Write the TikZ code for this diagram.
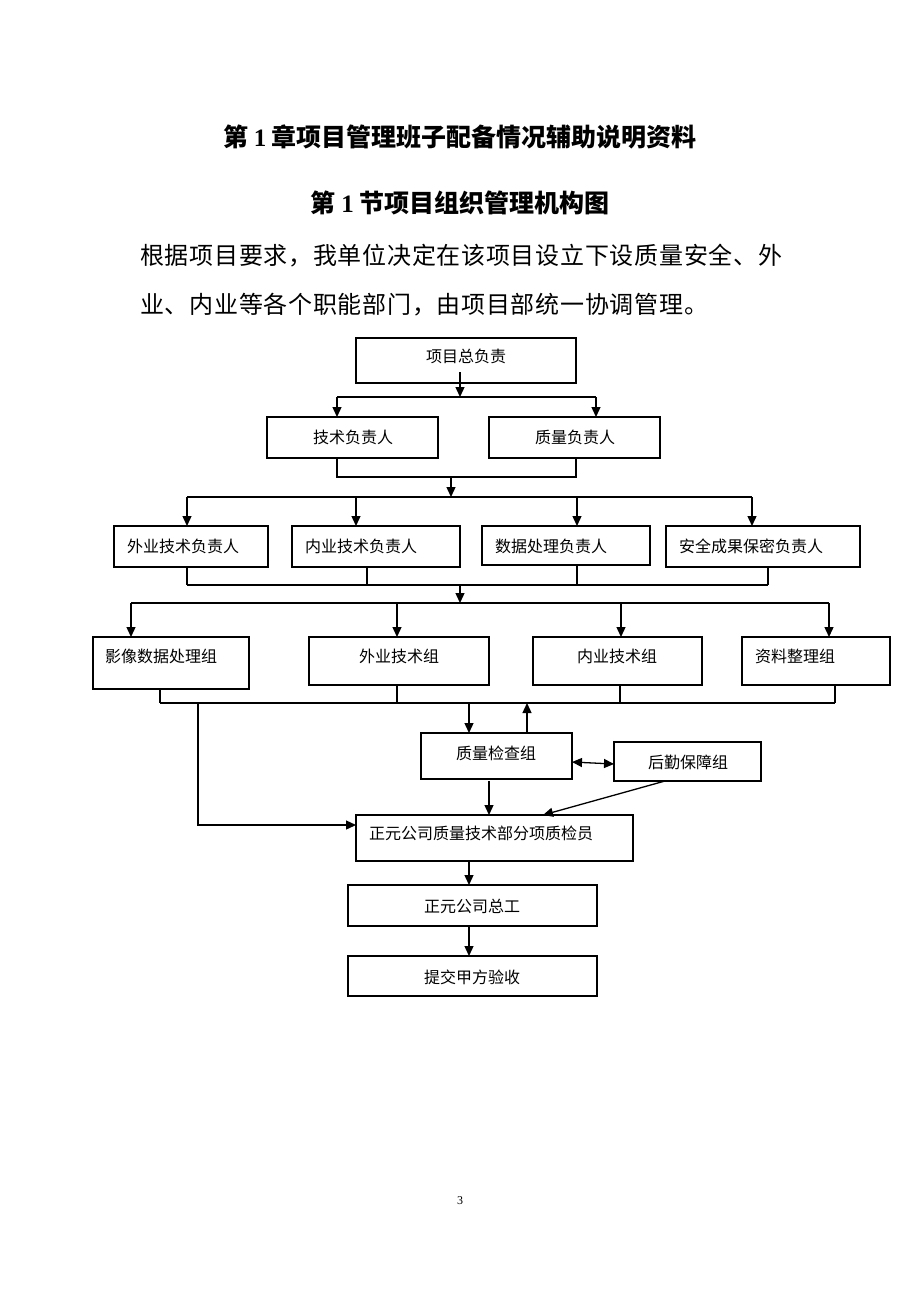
\documentclass[tikz,border=0pt]{standalone}
\usepackage{fontspec}
\setmainfont{Liberation Serif}
\newfontfamily\cjk{Noto Sans CJK SC}
\newfontfamily\cjkp[LetterSpace=3]{Noto Sans CJK SC}
\usetikzlibrary{arrows.meta}
\tikzset{
  box/.style={draw=black, line width=1.3pt, inner sep=0pt, outer sep=0pt, fill=white},
  lbl/.style={inner sep=0pt, font=\cjk\fontsize{16}{16}\selectfont},
  ttl/.style={inner sep=0pt, font=\cjk\bfseries\fontsize{25}{25}\selectfont},
  para/.style={inner sep=0pt, anchor=west, font=\cjkp\fontsize{24}{24}\selectfont},
  ln/.style={line width=1.3pt, black},
  arr/.style={ln, -{Triangle[length=10pt,width=9pt]}},
  darr/.style={ln, {Triangle[length=10pt,width=9pt]}-{Triangle[length=10pt,width=9pt]}}
}
\begin{document}
\begin{tikzpicture}[x=1pt,y=-1pt]
\fill[white] (0,0) rectangle (920,1302);
\useasboundingbox (0,0) rectangle (920,1302);

% titles and paragraph
\node[ttl] (title1) at (460,137) {第 {\rmfamily\bfseries 1} 章项目管理班子配备情况辅助说明资料};
\node[ttl] (title2) at (460,203) {第 {\rmfamily\bfseries 1} 节项目组织管理机构图};
\node[para] (p1) at (140,256) {根据项目要求，我单位决定在该项目设立下设质量安全、外};
\node[para] (p2) at (140,305) {业、内业等各个职能部门，由项目部统一协调管理。};
\node[inner sep=0pt, font=\fontsize{12}{12}\selectfont] (pg) at (460,1201) {3};

% boxes
\node[box, minimum width=220pt, minimum height=45pt] (B1) at (466,360.5) {};
\node[box, minimum width=171pt, minimum height=41pt] (B2) at (352.5,437.5) {};
\node[box, minimum width=171pt, minimum height=41pt] (B3) at (574.5,437.5) {};
\node[box, minimum width=154pt, minimum height=41pt] (C1) at (191,546.5) {};
\node[box, minimum width=168pt, minimum height=41pt] (C2) at (376,546.5) {};
\node[box, minimum width=168pt, minimum height=39pt] (C3) at (566,545.5) {};
\node[box, minimum width=194pt, minimum height=41pt] (C4) at (763,546.5) {};
\node[box, minimum width=156pt, minimum height=52pt] (D1) at (171,663) {};
\node[box, minimum width=180pt, minimum height=48pt] (D2) at (399,661) {};
\node[box, minimum width=169pt, minimum height=48pt] (D3) at (617.5,661) {};
\node[box, minimum width=148pt, minimum height=48pt] (D4) at (816,661) {};
\node[box, minimum width=151pt, minimum height=46pt] (E1) at (496.5,756) {};
\node[box, minimum width=147pt, minimum height=39pt] (E2) at (687.5,761.5) {};
\node[box, minimum width=277pt, minimum height=46pt] (F1) at (494.5,838) {};
\node[box, minimum width=249pt, minimum height=41pt] (F2) at (472.5,905.5) {};
\node[box, minimum width=249pt, minimum height=40pt] (F3) at (472.5,976) {};

% labels
\node[lbl] (B1t) at (466,356) {项目总负责};
\node[lbl] (B2t) at (353,437) {技术负责人};
\node[lbl] (B3t) at (575,437) {质量负责人};
\node[lbl] (C1t) at (183,546) {外业技术负责人};
\node[lbl] (C2t) at (361,546) {内业技术负责人};
\node[lbl] (C3t) at (551,546) {数据处理负责人};
\node[lbl] (C4t) at (751,546) {安全成果保密负责人};
\node[lbl] (D1t) at (161,656) {影像数据处理组};
\node[lbl] (D2t) at (399,656) {外业技术组};
\node[lbl] (D3t) at (617,656) {内业技术组};
\node[lbl] (D4t) at (795,656) {资料整理组};
\node[lbl] (E1t) at (496,753) {质量检查组};
\node[lbl] (E2t) at (688,762) {后勤保障组};
\node[lbl] (F1t) at (481,833) {正元公司质量技术部分项质检员};
\node[lbl] (F2t) at (472,906) {正元公司总工};
\node[lbl] (F3t) at (472,977) {提交甲方验收};

% junction coordinates
\coordinate (t1) at (460,372);
\coordinate (j1) at (460,397);
\coordinate (h1L) at (337,397);
\coordinate (h1R) at (596,397);
\coordinate (c1L) at (337,477);
\coordinate (c1R) at (576,477);
\coordinate (m1) at (451,477);
\coordinate (j2) at (451,497);
\coordinate (h2L) at (187,497);
\coordinate (h2b) at (356,497);
\coordinate (h2c) at (577,497);
\coordinate (h2R) at (752,497);
\coordinate (p1c) at (187,585);
\coordinate (p2c) at (367,585);
\coordinate (p3c) at (577,585);
\coordinate (p4c) at (768,585);
\coordinate (m2) at (460,585);
\coordinate (j3) at (460,603);
\coordinate (h3L) at (131,603);
\coordinate (h3b) at (397,603);
\coordinate (h3c) at (621,603);
\coordinate (h3R) at (829,603);
\coordinate (q1) at (160,703);
\coordinate (q2) at (397,703);
\coordinate (q3) at (620,703);
\coordinate (q4) at (835,703);
\coordinate (m3) at (469,703);
\coordinate (u3) at (527,703);
\coordinate (k1) at (198,703);
\coordinate (k2) at (198,825);
\coordinate (e1) at (489,781);
\coordinate (e2) at (665,781);
\coordinate (e3) at (543,815);
\coordinate (g) at (469,0);

% level 1
\draw[arr] (t1) -- (j1);
\draw[ln] (h1L) -- (h1R);
\draw[arr] (h1L) -- (h1L |- B2.north);
\draw[arr] (h1R) -- (h1R |- B3.north);
\draw[ln] (c1L |- B2.south) -- (c1L) -- (c1R) -- (c1R |- B3.south);
\draw[arr] (m1) -- (j2);

% level 2
\draw[ln] (h2L) -- (h2R);
\draw[arr] (h2L) -- (h2L |- C1.north);
\draw[arr] (h2b) -- (h2b |- C2.north);
\draw[arr] (h2c) -- (h2c |- C3.north);
\draw[arr] (h2R) -- (h2R |- C4.north);
\draw[ln] (p1c |- C1.south) -- (p1c);
\draw[ln] (p2c |- C2.south) -- (p2c);
\draw[ln] (p3c |- C3.south) -- (p3c);
\draw[ln] (p4c |- C4.south) -- (p4c);
\draw[ln] (p1c) -- (p4c);
\draw[arr] (m2) -- (j3);

% level 3
\draw[ln] (h3L) -- (h3R);
\draw[arr] (h3L) -- (h3L |- D1.north);
\draw[arr] (h3b) -- (h3b |- D2.north);
\draw[arr] (h3c) -- (h3c |- D3.north);
\draw[arr] (h3R) -- (h3R |- D4.north);
\draw[ln] (q1 |- D1.south) -- (q1);
\draw[ln] (q2 |- D2.south) -- (q2);
\draw[ln] (q3 |- D3.south) -- (q3);
\draw[ln] (q4 |- D4.south) -- (q4);
\draw[ln] (q1) -- (q4);

% quality check
\draw[arr] (m3) -- (m3 |- E1.north);
\draw[arr] (u3 |- E1.north) -- (u3);
\draw[darr] ([yshift=-6pt]E1.east) -- ([yshift=-2.5pt]E2.west);
\draw[arr] (e1) -- (e1 |- F1.north);
\draw[arr] (e2) -- (e3);
\draw[arr] (k1) -- (k2) -- (k2 -| F1.west);

% final chain
\draw[arr] (g |- F1.south) -- (g |- F2.north);
\draw[arr] (g |- F2.south) -- (g |- F3.north);
\end{tikzpicture}
\end{document}
